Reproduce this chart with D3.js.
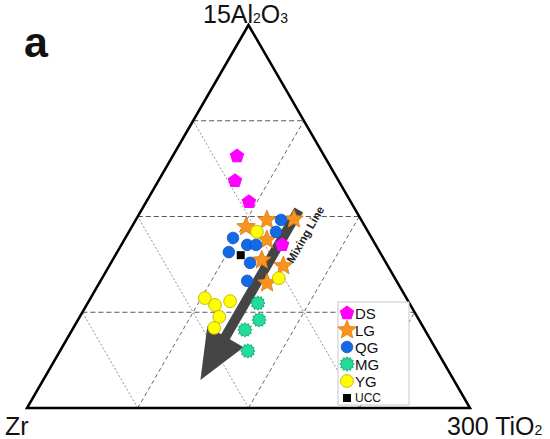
<!DOCTYPE html>
<html>
<head>
<meta charset="utf-8">
<script src="https://cdn.jsdelivr.net/npm/d3@7"></script>
<style>
  body { margin: 0; background: #fff; }
  svg { display: block; font-family: "Liberation Sans", Arial, sans-serif; }
</style>
</head>
<body>
<div id="chart"></div>
<script>
// Ternary values: [Al2O3, TiO2, Zr] in percent
var dsData = [[65.8, 14.5, 19.7], [59.3, 17.3, 23.4], [53.8, 23.2, 23.0], [42.6, 36.3, 21.1]];
var lgData = [[47.3, 25.8, 26.9], [49.1, 29.6, 21.3], [49.3, 35.6, 15.1], [43.9, 32.2, 23.9],
              [38.6, 33.7, 27.7], [37.1, 39.3, 23.6], [32.6, 37.9, 29.5]];
var qgData = [[44.4, 24.3, 31.3], [40.7, 25.2, 34.1], [42.6, 28.4, 29.0], [42.6, 30.4, 27.0],
              [46.0, 33.2, 20.8], [49.1, 32.8, 18.1], [37.9, 31.4, 30.7], [33.2, 33.1, 33.7]];
var mgData = [[27.4, 38.4, 34.2], [23.0, 40.9, 36.1], [20.4, 39.0, 40.6], [14.9, 42.4, 42.7]];
var ygData = [[46.0, 28.9, 25.1], [33.9, 39.9, 26.2], [28.7, 25.8, 45.5], [26.9, 29.0, 44.1],
              [27.9, 31.9, 40.2], [23.8, 31.5, 44.7], [20.9, 31.8, 47.3]];
var uccData = [[39.9, 28.3, 31.8]];
var mixingLine = [[51.7, 35.5, 12.8], [7.3, 35.5, 57.2]];
var gridLevels = [0.25, 0.5, 0.75];
var legendLabels = ["DS", "LG", "QG", "MG", "YG", "UCC"];

var svgWidth = 550;
var svgHeight = 439;

var svg = d3.select("#chart")
    .append("svg")
    .attr("width", svgWidth)
    .attr("height", svgHeight);

// Scales: horizontal runs Zr (left) -> TiO2 (right), vertical is Al2O3
var xScale = d3.scaleLinear().domain([0, 1]).range([27, 470]);
var yScale = d3.scaleLinear().domain([0, 1]).range([408, 25]);

// a = Al2O3 fraction, b = TiO2 fraction
function proj(a, b) {
    return [xScale(b + a / 2), yScale(a)];
}
function projRow(d) {
    var t = d[0] + d[1] + d[2];
    return proj(d[0] / t, d[1] / t);
}

// Marker shapes
function polyPath(n, r, rot) {
    var pts = d3.range(n).map(function(i) {
        var ang = rot + i * 2 * Math.PI / n;
        return [r * Math.cos(ang), r * Math.sin(ang)];
    });
    return "M" + pts.join("L") + "Z";
}
function starPath(n, outer, inner) {
    var pts = d3.range(n * 2).map(function(i) {
        var r = i % 2 === 0 ? outer : inner;
        var ang = -Math.PI / 2 + i * Math.PI / n;
        return [r * Math.cos(ang), r * Math.sin(ang)];
    });
    return "M" + pts.join("L") + "Z";
}

var groups = [
    { name: "DS", data: dsData, path: polyPath(5, 7.6, -Math.PI / 2), fill: "#ff00ff", stroke: "none" },
    { name: "LG", data: lgData, path: starPath(5, 9.8, 4.4), fill: "#f7931e", stroke: "#e07d10" },
    { name: "QG", data: qgData, path: d3.symbol(d3.symbolCircle, Math.PI * 5.8 * 5.8)(), fill: "#1469e6", stroke: "#0d55c0" },
    { name: "MG", data: mgData, path: starPath(12, 7.2, 5.6), fill: "#22dd99", stroke: "#0b9e6a" },
    { name: "YG", data: ygData, path: d3.symbol(d3.symbolCircle, Math.PI * 6.4 * 6.4)(), fill: "#ffff00", stroke: "#b8a800" },
    { name: "UCC", data: uccData, path: d3.symbol(d3.symbolSquare, 64)(), fill: "#000", stroke: "none" }
];

// Grid lines
var gridGroup = svg.append("g");
gridLevels.forEach(function(k) {
    var p1 = proj(k, 0), p2 = proj(k, 1 - k);
    gridGroup.append("line")
        .attr("x1", p1[0]).attr("y1", p1[1]).attr("x2", p2[0]).attr("y2", p2[1])
        .attr("stroke", "#555").attr("stroke-width", 1).attr("stroke-dasharray", "5,3");
    // parallel to left side (TiO2 constant)
    var q1 = proj(0, k), q2 = proj(1 - k, k);
    gridGroup.append("line")
        .attr("x1", q1[0]).attr("y1", q1[1]).attr("x2", q2[0]).attr("y2", q2[1])
        .attr("stroke", "#555").attr("stroke-width", 0.9).attr("stroke-dasharray", "4,3");
    // parallel to right side (Zr constant)
    var r1 = proj(0, 1 - k), r2 = proj(1 - k, 0);
    gridGroup.append("line")
        .attr("x1", r1[0]).attr("y1", r1[1]).attr("x2", r2[0]).attr("y2", r2[1])
        .attr("stroke", "#777").attr("stroke-width", 0.8).attr("stroke-dasharray", "2,2");
});

// Outer triangle
var corners = [proj(1, 0), proj(0, 0), proj(0, 1)];
svg.append("path")
    .attr("d", "M" + corners.join("L") + "Z")
    .attr("fill", "none")
    .attr("stroke", "#000")
    .attr("stroke-width", 2.5)
    .attr("stroke-linejoin", "miter");

// Mixing line arrow
var aStart = projRow(mixingLine[0]);
var aEnd = projRow(mixingLine[1]);
var dx = aEnd[0] - aStart[0], dy = aEnd[1] - aStart[1];
var len = Math.sqrt(dx * dx + dy * dy);
var ux = dx / len, uy = dy / len, nx = -uy, ny = ux;
var shaftW = 5, headW = 21, headL = 50;
var hb = [aEnd[0] - ux * headL, aEnd[1] - uy * headL];
var arrowPts = [
    [aStart[0] + nx * shaftW, aStart[1] + ny * shaftW],
    [hb[0] + nx * shaftW, hb[1] + ny * shaftW],
    [hb[0] + nx * headW, hb[1] + ny * headW],
    aEnd,
    [hb[0] - nx * headW, hb[1] - ny * headW],
    [hb[0] - nx * shaftW, hb[1] - ny * shaftW],
    [aStart[0] - nx * shaftW, aStart[1] - ny * shaftW]
];
svg.append("path")
    .attr("d", "M" + arrowPts.join("L") + "Z")
    .attr("fill", "#454545");

// Markers
groups.forEach(function(g) {
    svg.append("g").selectAll("path")
        .data(g.data)
        .enter()
        .append("path")
        .attr("d", g.path)
        .attr("transform", function(d) { var p = projRow(d); return "translate(" + p[0] + "," + p[1] + ")"; })
        .attr("fill", g.fill)
        .attr("stroke", g.stroke)
        .attr("stroke-width", 0.8);
});

// Arrow label, beside the shaft on its right
var angle = Math.atan2(-dy, -dx) * 180 / Math.PI;
var mid = [aStart[0] + ux * 18 - nx * 18, aStart[1] + uy * 18 - ny * 18];
svg.append("text")
    .attr("transform", "translate(" + mid[0] + "," + mid[1] + ") rotate(" + angle + ")")
    .attr("text-anchor", "middle")
    .attr("dominant-baseline", "central")
    .attr("font-size", 11.5)
    .attr("font-weight", "bold")
    .attr("fill", "#222")
    .text("Mixing Line");

// Legend
var legend = svg.append("g");
legend.append("rect")
    .attr("x", 338).attr("y", 302).attr("width", 71).attr("height", 103)
    .attr("fill", "#fff").attr("stroke", "#c8c8c8").attr("stroke-width", 1);
var legendY = d3.scalePoint().domain(legendLabels).range([313, 398]);
groups.forEach(function(g) {
    var y = legendY(g.name);
    legend.append("path")
        .attr("d", g.path)
        .attr("transform", "translate(347," + y + ")")
        .attr("fill", g.fill)
        .attr("stroke", g.stroke)
        .attr("stroke-width", 0.8);
    legend.append("text")
        .attr("x", 355)
        .attr("y", y)
        .attr("dominant-baseline", "central")
        .attr("font-size", g.name === "UCC" ? 12 : 15)
        .attr("fill", "#111")
        .text(g.name);
});

// Axis vertex labels
var topLabel = svg.append("text").attr("x", 203).attr("y", 23).attr("font-size", 25).attr("fill", "#111");
topLabel.append("tspan").text("15Al");
topLabel.append("tspan").attr("font-size", 14).text("2");
topLabel.append("tspan").text("O");
topLabel.append("tspan").attr("font-size", 14).text("3");

svg.append("text").attr("x", 5).attr("y", 435).attr("font-size", 25).attr("fill", "#111").text("Zr");

var rightLabel = svg.append("text").attr("x", 447).attr("y", 435).attr("font-size", 25).attr("fill", "#111");
rightLabel.append("tspan").text("300 TiO");
rightLabel.append("tspan").attr("font-size", 14).text("2");

svg.append("text")
    .attr("x", 24).attr("y", 57)
    .attr("font-size", 43).attr("font-weight", "bold").attr("fill", "#111")
    .text("a");
</script>
</body>
</html>
